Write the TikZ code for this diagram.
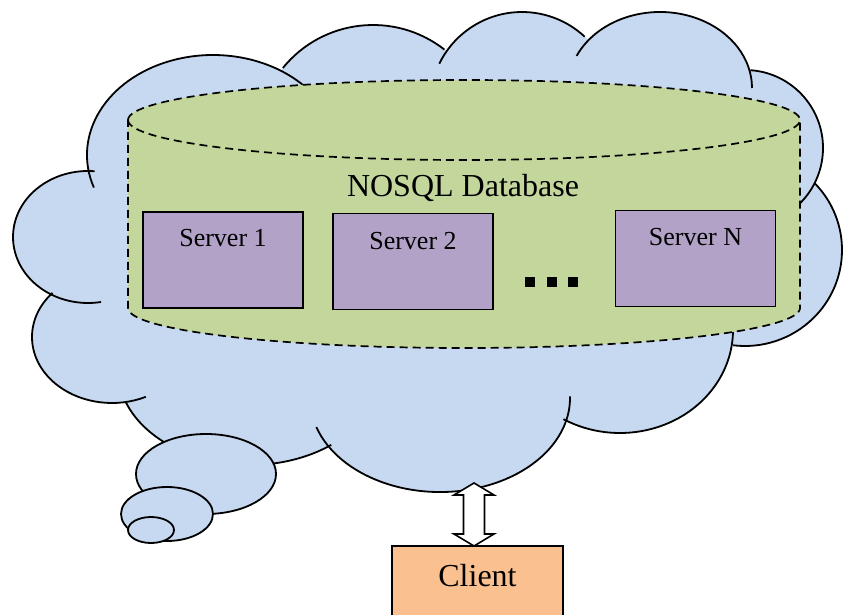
\documentclass[tikz,border=0pt]{standalone}
\usepackage{fontspec}
\setmainfont{Liberation Serif}
\usetikzlibrary{positioning}
\definecolor{cloudblue}{RGB}{198,217,240}
\definecolor{dbgreen}{RGB}{195,214,155}
\definecolor{srvpurple}{RGB}{178,162,199}
\definecolor{clientorange}{RGB}{250,192,144}
\tikzset{
  cloudline/.style={line width=1.8pt},
  dbline/.style={line width=1.7pt,dash pattern=on 8pt off 5pt},
  srv/.style={draw,line width=1.6pt,fill=srvpurple,minimum width=160,minimum height=96,inner sep=0pt},
  srvtext/.style={font=\fontsize{26}{30}\selectfont,inner sep=0pt},
  clientbox/.style={draw,line width=1.6pt,fill=clientorange,minimum width=171,minimum height=84,inner sep=0pt},
  linkarrow/.style={draw,line width=1.6pt,fill=white,line join=miter}
}
\begin{document}
\begin{tikzpicture}[x=1pt,y=-1pt]
  \useasboundingbox (0,0) rectangle (843,615);
  \clip (0,0) rectangle (843,615);
  % bumps of the cloud : centre x/centre y/x radius/y radius/start/end
  \def\cloudbumps{213/155/126/100/161/323, 373/141/116/116/219/308, 522/104/92/92/206/313,
    660/88/92/76/205/360, 745/148/78/78/274/405, 745/250/97/96/316/457, 620/330/113/103/120/0,
    440/398/130/94/162/-1, 250/370/132/95/160/52, 112/337/80/66/222/65, 88/237/75/66/275/80}
  \foreach \cx/\cy/\rx/\ry/\a/\b in \cloudbumps
    \fill[cloudblue] (\cx,\cy) ellipse[x radius=\rx,y radius=\ry];
  \fill[cloudblue] (213,155) -- (373,141) -- (522,104) -- (660,88) -- (745,148) -- (745,250)
    -- (620,330) -- (440,398) -- (250,370) -- (112,337) -- (88,237) -- cycle;
  \foreach \cx/\cy/\rx/\ry/\a/\b in \cloudbumps
    \draw[cloudline] ({\cx+\rx*cos(\a)},{\cy+\ry*sin(\a)}) arc[start angle=\a,end angle=\b,x radius=\rx,y radius=\ry];

  % the database
  \draw[dbline,fill=dbgreen] (128,120) arc[start angle=180,end angle=360,x radius=336,y radius=40]
    -- (800,308) arc[start angle=0,end angle=180,x radius=336,y radius=40] -- cycle;
  \draw[dbline] (128,120) arc[start angle=180,end angle=0,x radius=336,y radius=40];
  \node[font=\fontsize{32}{38}\selectfont] (dbname) at (463,188) {NOSQL Database};

  \node[srv] (s1) at (223,260) {};
  \node[srv] (s2) at (413,261.5) {};
  \node[srv] (sN) at (695.5,258.5) {};
  \node[srvtext,below=18pt of s1.north] {Server 1};
  \node[srvtext,below=19pt of s2.north] {Server 2};
  \node[srvtext,below=18pt of sN.north] {Server N};
  \foreach \x in {530,552,573}
    \fill (\x-5,277) rectangle ++(10,10);

  % thought bubbles
  \draw[cloudline,fill=cloudblue] (206,474) ellipse[x radius=70,y radius=40];
  \draw[cloudline,fill=cloudblue] (167,514) ellipse[x radius=46,y radius=27];
  \draw[cloudline,fill=cloudblue] (151,530) ellipse[x radius=23,y radius=13];

  \node[clientbox] (client) at (477.5,588) {};
  \node[font=\fontsize{32}{38}\selectfont,inner sep=0pt,below=19pt of client.north] {Client};

  \coordinate (cloudlink) at (474,483);
  \coordinate (clientlink) at (474,546);
  \draw[linkarrow] (cloudlink) -- ++(20,12) -- ++(-9.5,0) -- ++(0,39) -- ++(9.5,0) -- (clientlink)
    -- ++(-20,-12) -- ++(9.5,0) -- ++(0,-39) -- ++(-9.5,0) -- cycle;
\end{tikzpicture}
\end{document}
